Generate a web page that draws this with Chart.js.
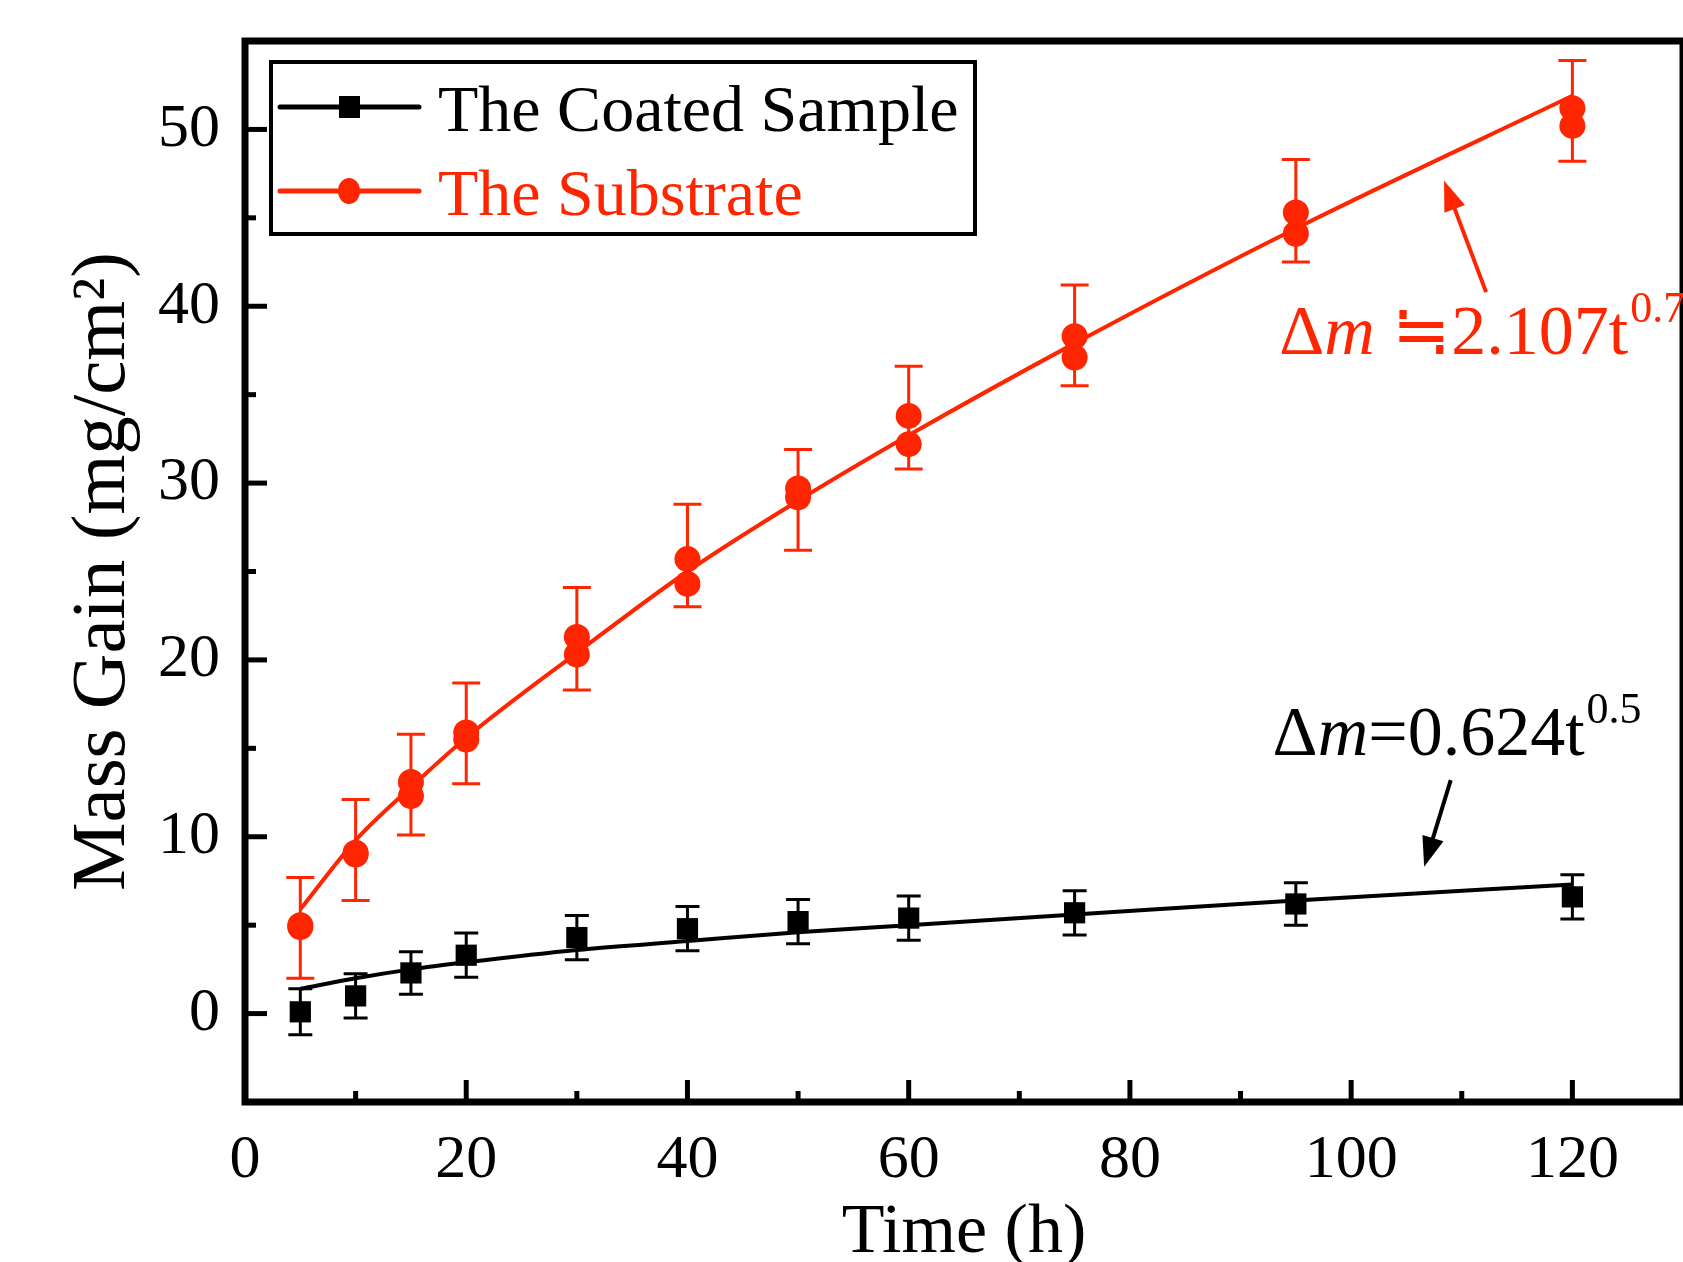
<!DOCTYPE html>
<html>
<head>
<meta charset="utf-8">
<script src="https://cdn.jsdelivr.net/npm/chart.js@4.4.1/dist/chart.umd.min.js"></script>
<style>
  html, body { margin: 0; padding: 0; background: #fff; }
  #wrap { width: 1683px; height: 1262px; }
</style>
</head>
<body>
<div id="wrap"><canvas id="chart"></canvas></div>
<script>
// values
const hours = [5, 10, 15, 20, 30, 40, 50, 60, 75, 95, 120];

const coatedGain = [0.1, 1.0, 2.3, 3.3, 4.3, 4.8, 5.2, 5.4, 5.7, 6.2, 6.6];
const coatedErr  = [1.3, 1.25, 1.2, 1.25, 1.25, 1.25, 1.25, 1.25, 1.25, 1.2, 1.25];
const coatedFit  = [1.4, 2.0, 2.5, 2.9, 3.6, 4.1, 4.6, 5.0, 5.6, 6.4, 7.3];

const substrateUpper = [5.0, 9.1, 13.1, 15.9, 21.3, 25.7, 29.7, 33.8, 38.3, 45.3, 51.2];
const substrateLower = [4.9, 9.0, 12.3, 15.5, 20.3, 24.3, 29.2, 32.2, 37.1, 44.1, 50.2];
const substrateMean  = [4.85, 9.25, 12.95, 15.85, 21.2, 25.9, 29.05, 33.7, 38.35, 45.4, 51.05];
const substrateErr   = [2.85, 2.85, 2.85, 2.85, 2.9, 2.9, 2.85, 2.9, 2.85, 2.9, 2.85];
const substrateFit   = [5.9, 9.8, 12.8, 15.6, 20.4, 25.0, 29.0, 32.7, 37.9, 44.4, 51.9];

const xTicks = [0, 20, 40, 60, 80, 100, 120];
const yTicks = [0, 10, 20, 30, 40, 50];

const RED = '#fe2500';
const SERIF = '"Liberation Serif", "Times New Roman", serif';

function pts(ys) {
    return hours.map((h, i) => ({ x: h, y: ys[i] }));
}

// draws the frame, inward ticks, error bars, legend and the two fit labels
const decorPlugin = {
    id: 'decor',
    beforeDatasetsDraw(chart) {
        const ctx = chart.ctx;
        const xs = chart.scales.x, ys = chart.scales.y;
        function bars(means, errs, color, cap) {
            ctx.save();
            ctx.strokeStyle = color;
            ctx.lineWidth = 3;
            hours.forEach((h, i) => {
                const px = xs.getPixelForValue(h);
                const top = ys.getPixelForValue(means[i] + errs[i]);
                const bot = ys.getPixelForValue(means[i] - errs[i]);
                ctx.beginPath();
                ctx.moveTo(px, top); ctx.lineTo(px, bot);
                ctx.moveTo(px - cap, top); ctx.lineTo(px + cap, top);
                ctx.moveTo(px - cap, bot); ctx.lineTo(px + cap, bot);
                ctx.stroke();
            });
            ctx.restore();
        }
        bars(substrateMean, substrateErr, RED, 14);
        bars(coatedGain, coatedErr, '#000', 12);
    },
    afterDraw(chart) {
        const ctx = chart.ctx;
        const a = chart.chartArea;
        const xs = chart.scales.x, ys = chart.scales.y;
        ctx.save();

        // ticks pointing inward
        ctx.strokeStyle = '#000';
        ctx.lineWidth = 5;
        for (let v = 10; v < 130; v += 10) {
            const px = xs.getPixelForValue(v);
            const len = v % 20 === 0 ? 22 : 11;
            ctx.beginPath(); ctx.moveTo(px, a.bottom); ctx.lineTo(px, a.bottom - len); ctx.stroke();
        }
        for (let v = -5; v <= 55; v += 5) {
            const py = ys.getPixelForValue(v);
            const len = v % 10 === 0 ? 22 : 11;
            ctx.beginPath(); ctx.moveTo(a.left, py); ctx.lineTo(a.left + len, py); ctx.stroke();
        }

        // frame
        ctx.lineWidth = 7;
        ctx.strokeRect(a.left, a.top, a.right - a.left, a.bottom - a.top);

        // legend
        ctx.lineWidth = 4;
        ctx.strokeRect(271, 62, 704, 172);
        const rows = [
            { y: 107, base: 131, color: '#000', text: 'The Coated Sample', square: true },
            { y: 191, base: 215, color: RED, text: 'The Substrate', square: false }
        ];
        rows.forEach(r => {
            ctx.strokeStyle = r.color;
            ctx.fillStyle = r.color;
            ctx.lineWidth = 5;
            ctx.lineCap = 'round';
            ctx.beginPath(); ctx.moveTo(280, r.y); ctx.lineTo(419, r.y); ctx.stroke();
            if (r.square) {
                ctx.fillRect(339, r.y - 11, 21, 22);
            } else {
                ctx.beginPath(); ctx.ellipse(349, r.y, 11, 13, 0, 0, Math.PI * 2); ctx.fill();
            }
            ctx.font = '66px ' + SERIF;
            ctx.textAlign = 'left';
            ctx.textBaseline = 'alphabetic';
            ctx.fillText(r.text, 438, r.base);
        });

        // fit labels and arrows
        function label(x, y, sign, rest, sup, color) {
            let px = xs.getPixelForValue(x);
            const py = ys.getPixelForValue(y);
            ctx.fillStyle = color;
            ctx.textAlign = 'left';
            ctx.textBaseline = 'alphabetic';
            ctx.font = '70px ' + SERIF;
            ctx.fillText('\u0394', px, py); px += ctx.measureText('\u0394').width;
            ctx.font = 'italic 70px ' + SERIF;
            ctx.fillText('m', px, py); px += ctx.measureText('m').width;
            ctx.font = '70px ' + SERIF;
            ctx.fillText(sign + rest, px, py); px += ctx.measureText(sign + rest).width;
            ctx.font = '44px ' + SERIF;
            ctx.fillText(sup, px + 2, py - 32);
        }
        function arrow(x0, y0, x1, y1, color) {
            const p0 = [xs.getPixelForValue(x0), ys.getPixelForValue(y0)];
            const p1 = [xs.getPixelForValue(x1), ys.getPixelForValue(y1)];
            const ang = Math.atan2(p1[1] - p0[1], p1[0] - p0[0]);
            const hl = 30, hw = 11;
            ctx.strokeStyle = color; ctx.fillStyle = color;
            ctx.lineWidth = 4; ctx.lineCap = 'butt';
            ctx.beginPath();
            ctx.moveTo(p0[0], p0[1]);
            ctx.lineTo(p1[0] - Math.cos(ang) * hl * 0.8, p1[1] - Math.sin(ang) * hl * 0.8);
            ctx.stroke();
            ctx.beginPath();
            ctx.moveTo(p1[0], p1[1]);
            ctx.lineTo(p1[0] - Math.cos(ang) * hl - Math.sin(ang) * hw, p1[1] - Math.sin(ang) * hl + Math.cos(ang) * hw);
            ctx.lineTo(p1[0] - Math.cos(ang) * hl + Math.sin(ang) * hw, p1[1] - Math.sin(ang) * hl - Math.cos(ang) * hw);
            ctx.closePath();
            ctx.fill();
        }
        label(92.9, 14.6, '=', '0.624t', '0.5', '#000');
        arrow(109.0, 13.2, 106.6, 8.3, '#000');
        label(93.5, 37.3, ' \u2252', '2.107t', '0.7', RED);
        arrow(112.2, 40.8, 108.4, 47.1, RED);

        ctx.restore();
    }
};

const ctx = document.getElementById('chart').getContext('2d');

new Chart(ctx, {
    type: 'scatter',
    data: {
        datasets: [
            {
                label: 'The Coated Sample',
                data: pts(coatedGain),
                pointStyle: 'rect',
                pointRadius: 15,
                backgroundColor: '#000',
                borderColor: '#000',
                borderWidth: 0,
                showLine: false,
                order: 0
            }, {
                label: 'The Substrate',
                data: pts(substrateUpper),
                pointStyle: 'circle',
                pointRadius: 13,
                backgroundColor: RED,
                borderColor: RED,
                borderWidth: 0,
                showLine: false,
                order: 0
            }, {
                label: 'The Substrate (repeat)',
                data: pts(substrateLower),
                pointStyle: 'circle',
                pointRadius: 13,
                backgroundColor: RED,
                borderColor: RED,
                borderWidth: 0,
                showLine: false,
                order: 0
            }, {
                label: 'Coated fit',
                data: pts(coatedFit),
                showLine: true,
                pointRadius: 0,
                borderColor: '#000',
                borderWidth: 4,
                cubicInterpolationMode: 'monotone',
                order: 1
            }, {
                label: 'Substrate fit',
                data: pts(substrateFit),
                showLine: true,
                pointRadius: 0,
                borderColor: RED,
                borderWidth: 4,
                cubicInterpolationMode: 'monotone',
                order: 1
            }
        ]
    },
    options: {
        responsive: true,
        maintainAspectRatio: false,
        animation: false,
        layout: { autoPadding: false, padding: { top: 41, right: -2, left: 0, bottom: 0 } },
        plugins: {
            legend: { display: false },
            tooltip: { enabled: false }
        },
        scales: {
            x: {
                type: 'linear',
                min: 0,
                max: 130,
                afterBuildTicks: (scale) => { scale.ticks = xTicks.map(v => ({ value: v })); },
                afterFit: (scale) => {
                    scale.height = 160;
                    scale.paddingLeft = 0;
                    scale.paddingRight = 0;
                },
                grid: { display: false, drawTicks: false },
                border: { display: false },
                ticks: {
                    color: '#000',
                    padding: 22,
                    maxRotation: 0,
                    font: { family: SERIF, size: 62 }
                },
                title: {
                    display: true,
                    text: 'Time (h)',
                    color: '#000',
                    font: { family: SERIF, size: 70, lineHeight: 0.8 },
                    padding: { top: 0, bottom: 0 }
                }
            },
            y: {
                type: 'linear',
                min: -5,
                max: 55,
                afterBuildTicks: (scale) => { scale.ticks = yTicks.map(v => ({ value: v })); },
                afterFit: (scale) => {
                    scale.width = 245;
                    scale.paddingTop = 0;
                    scale.paddingBottom = 0;
                },
                grid: { display: false, drawTicks: false },
                border: { display: false },
                ticks: {
                    color: '#000',
                    padding: 25,
                    font: { family: SERIF, size: 62 }
                },
                title: {
                    display: true,
                    text: 'Mass Gain (mg/cm\u00B2)',
                    color: '#000',
                    font: { family: SERIF, size: 77, lineHeight: 1.2 },
                    padding: { top: 58, bottom: 0 }
                }
            }
        }
    },
    plugins: [decorPlugin]
});
</script>
</body>
</html>
